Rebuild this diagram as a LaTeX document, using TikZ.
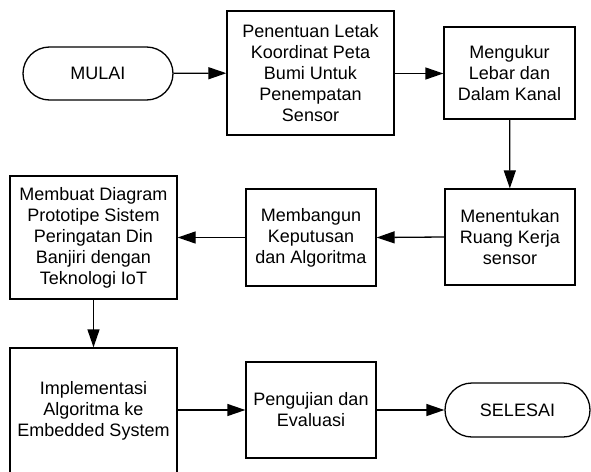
\documentclass[tikz,border=0pt]{standalone}
\usepackage{fontspec}
\setmainfont{Liberation Sans}
\usetikzlibrary{arrows.meta,shapes.misc}
\begin{document}
\begin{tikzpicture}[x=1pt,y=-1pt,
  every node/.style={font=\fontsize{18}{21}\selectfont, align=center, inner sep=0pt},
  procbox/.style={draw, line width=1.3pt, rectangle},
  termbox/.style={draw, line width=1.3pt, rounded rectangle},
  flow/.style={draw, line width=1.3pt, -{Triangle[length=18pt,width=12pt]}}
]
\useasboundingbox (0,0) rectangle (591,471);
\node[termbox, minimum width=150pt, minimum height=53pt] (start) at (98,73.5) {MULAI};
\node[procbox, minimum width=167pt, minimum height=124pt] (b1) at (310.5,73) {Penentuan Letak\\Koordinat Peta\\Bumi Untuk\\Penempatan\\Sensor};
\node[procbox, minimum width=131pt, minimum height=92pt] (b2) at (509.5,73) {Mengukur\\Lebar dan\\Dalam Kanal};
\node[procbox, minimum width=130pt, minimum height=96pt] (b3) at (510,237) {Menentukan\\Ruang Kerja\\sensor};
\node[procbox, minimum width=130pt, minimum height=97pt] (b4) at (311,237.5) {Membangun\\Keputusan\\dan Algoritma};
\node[procbox, minimum width=167pt, minimum height=123pt] (b5) at (93.5,237.5) {Membuat Diagram\\Prototipe Sistem\\Peringatan Din\\Banjiri dengan\\Teknologi IoT};
\node[procbox, minimum width=167pt, minimum height=126pt] (b6) at (93.5,411) {Implementasi\\Algoritma ke\\Embedded System};
\node[procbox, minimum width=130pt, minimum height=96pt] (b7) at (311,410) {Pengujian dan\\Evaluasi};
\node[termbox, minimum width=145pt, minimum height=54pt] (stop) at (517.5,410) {SELESAI};
\draw[flow] (start) -- (b1);
\draw[flow] (b1.east |- start) -- (b2.west |- start);
\draw[flow] (b2) -- (b3);
\draw[flow] (b3.west) -- (b4.east);
\draw[flow] (b4) -- (b5);
\draw[flow] (b5) -- (b6);
\draw[flow] (b6.east |- b7) -- (b7);
\draw[flow] (b7) -- (stop);
\end{tikzpicture}
\end{document}
